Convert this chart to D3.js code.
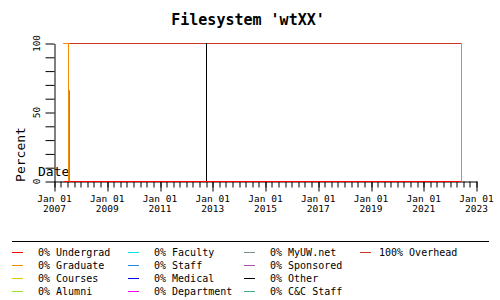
<!DOCTYPE html>
<html><head><meta charset="utf-8">
<script src="https://cdn.jsdelivr.net/npm/d3@7"></script>
<style>body{margin:0;background:#fff}svg{display:block}</style>
</head><body>
<svg id="c" width="500" height="300"></svg>
<script>
// ---- data ----
const dates = ["2007-05-04","2007-07-08","2007-07-20","2007-08-03","2012-10-04","2012-10-06","2022-06-14"];
const seriesNames = ["Undergrad","Graduate","Courses","Alumni","Faculty","Staff","Medical","Department","MyUW.net","Sponsored","Other","C&C Staff","Overhead"];
const seriesColors = ["#ff0000","#f08c00","#e6c800","#99dd33","#00e6e6","#2288dd","#0000ee","#ee00ee","#7f8f8f","#aa55aa","#000000","#44aa88","#cc3322"];
const undergrad  = [0,0,0,0,0,0,0];
const graduate   = [100,50,0,0,0,0,100];
const courses    = [0,0,0,0,0,0,0];
const alumni     = [0,0,0,0,0,0,0];
const faculty    = [0,0,0,0,0,0,0];
const staff      = [0,0,0,0,0,0,0];
const medical    = [0,0,0,0,0,0,0];
const department = [0,0,0,0,0,0,0];
const myuw       = [0,0,0,0,0,0,0];
const sponsored  = [0,0,0,0,0,0,0];
const other      = [0,0,0,0,100,0,0];
const ccstaff    = [0,40,66,0,0,0,0];
const overhead   = [0,10,34,100,0,100,0];
const legendPct  = [0,0,0,0,0,0,0,0,0,0,0,0,100];
const yTickLabels = [0,50,100];
const xMajorYears = [2007,2009,2011,2013,2015,2017,2019,2021,2023];

const values = [undergrad,graduate,courses,alumni,faculty,staff,medical,department,myuw,sponsored,other,ccstaff,overhead];
const parse = d3.timeParse("%Y-%m-%d");
const t = dates.map(parse);

const svg = d3.select("#c");
const mono = "'DejaVu Sans Mono', monospace";

const x = d3.scaleTime().domain([new Date(2007,0,1), new Date(2023,0,1)]).range([54, 476]);
const y = d3.scaleLinear().domain([0,100]).range([181, 43]);
const px = v => Math.round(v) + 0.5;   // snap to pixel centres

// title
svg.append("text").attr("x",248).attr("y",25).attr("text-anchor","middle")
  .attr("font-family",mono).attr("font-weight","bold").attr("font-size",15)
  .text("Filesystem 'wtXX'");

// y axis
const yMinor = d3.range(0,101,10);
const gy = svg.append("g").attr("transform","translate(54.5,0.5)");
gy.call(d3.axisLeft(y).tickValues(yMinor).tickSize(9).tickSizeOuter(0).tickFormat(""));
yTickLabels.forEach(v=>{
  svg.append("text").attr("transform",`translate(39.5,${y(v)+0.5}) rotate(-90)`)
    .attr("text-anchor","middle").attr("font-family",mono).attr("font-size",9.5)
    .text(v);
});
svg.append("text").attr("transform","translate(25,154.5) rotate(-90)")
  .attr("text-anchor","middle").attr("font-family",mono).attr("font-size",13).text("Percent");
svg.append("text").attr("x",38).attr("y",176).attr("font-family",mono).attr("font-size",13).text("Date");

// x axis
const quarters = d3.timeMonth.every(3).range(new Date(2007,0,1), new Date(2023,0,2));
const majors = xMajorYears.map(yv=>new Date(yv,0,1));
const xs = d3.scaleTime().domain(x.domain()).range(x.range()).rangeRound(x.range());
const gx = svg.append("g").attr("transform","translate(0.5,181.5)");
gx.append("g").call(d3.axisBottom(xs).tickValues(quarters).tickSize(6).tickSizeOuter(0).tickFormat(""));
gx.append("g").call(d3.axisBottom(xs).tickValues(majors).tickSize(10).tickSizeOuter(0).tickFormat(""))
  .call(g=>g.select(".domain").remove());
majors.forEach(d=>{
  const tx = svg.append("text").attr("x",x(d)).attr("text-anchor","middle")
    .attr("font-family",mono).attr("font-size",9.5);
  tx.append("tspan").attr("x",x(d)+0.5).attr("y",202).text(d3.timeFormat("%b %d")(d));
  tx.append("tspan").attr("x",x(d)+0.5).attr("y",211.5).text(d3.timeFormat("%Y")(d));
});

// stacked cumulative step lines
const cum = values.map((_,i)=>t.map((_,j)=>d3.sum(values.slice(0,i+1),s=>s[j])));
const line = d3.line().x((d,j)=>px(x(t[j]))).y(d=>px(y(d))).curve(d3.curveStepAfter);
const gl = svg.append("g");
for(let i=values.length-1;i>=0;i--){
  gl.append("path").attr("d",line(cum[i])).attr("fill","none")
    .attr("stroke",seriesColors[i]).attr("stroke-width",1);
}

// legend
svg.append("line").attr("x1",12).attr("x2",489).attr("y1",241.5).attr("y2",241.5)
  .attr("stroke","#000");
const colX = [12,128,244,360];
const rowY = [252.5,265.5,278.5,291.5];
seriesNames.forEach((n,i)=>{
  const c = Math.floor(i/4), r = i%4;
  const sx = colX[c], sy = rowY[r];
  svg.append("line").attr("x1",sx).attr("x2",sx+11).attr("y1",sy).attr("y2",sy)
    .attr("stroke",seriesColors[i]);
  svg.append("text").attr("x",sx + (legendPct[i]>=100?19:26)).attr("y",sy+3.5)
    .attr("font-family",mono).attr("font-size",10)
    .text(legendPct[i]+"% "+n);
});
</script>
</body></html>
